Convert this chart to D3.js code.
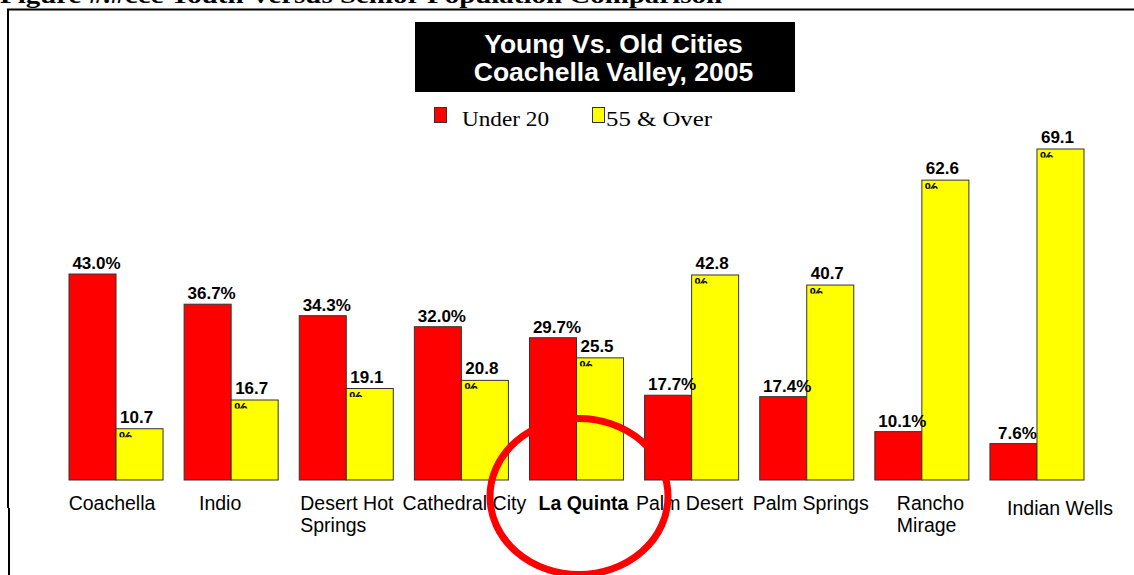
<!DOCTYPE html>
<html><head><meta charset="utf-8">
<script src="https://cdn.jsdelivr.net/npm/d3@7"></script>
<style>body{margin:0;background:#fff;}svg{display:block;}</style>
</head><body>
<script>
const categories = ["Coachella","Indio","Desert Hot Springs","Cathedral City","La Quinta","Palm Desert","Palm Springs","Rancho Mirage","Indian Wells"];
const categoryLines = [["Coachella"],["Indio"],["Desert Hot","Springs"],["Cathedral City"],["La Quinta"],["Palm Desert"],["Palm Springs"],["Rancho","Mirage"],["Indian Wells"]];
const under20 = [43.0,36.7,34.3,32.0,29.7,17.7,17.4,10.1,7.6];
const over55 = [10.7,16.7,19.1,20.8,25.5,42.8,40.7,62.6,69.1];
const seriesNames = ["Under 20","55 & Over"];
const highlight = "La Quinta";
// layout nudges for category labels (px)
const labelDx = [-4,-11,1,3,7,-2,4,22,23];
const labelDy = [0,0,0,0,0,0,0,0,5];

const W=1134,H=575;
const svg=d3.select("body").append("svg").attr("width",W).attr("height",H);
const colors=["#FF0000","#FFFF00"];

// page header (cut off at top, as in the source page)
svg.append("text").attr("x",0).attr("y",3)
  .attr("font-family","Liberation Serif, Times New Roman, serif").attr("font-weight","bold")
  .attr("font-size",24).attr("textLength",722).attr("lengthAdjust","spacingAndGlyphs")
  .text("Figure #.#ccc Youth Versus Senior Population Comparison");
// frame
svg.append("line").attr("x1",7).attr("x2",W).attr("y1",9.5).attr("y2",9.5).attr("stroke","#000").attr("stroke-width",2);
svg.append("line").attr("x1",8).attr("x2",8).attr("y1",9).attr("y2",508).attr("stroke","#000").attr("stroke-width",2);
svg.append("line").attr("x1",9).attr("x2",9).attr("y1",508).attr("y2",H).attr("stroke","#000").attr("stroke-width",2);

// title box
svg.append("rect").attr("x",415).attr("y",22).attr("width",380).attr("height",70).attr("fill","#000");
const tt=svg.append("text").attr("text-anchor","middle").attr("fill","#fff")
  .attr("font-family","Liberation Sans, Arial, sans-serif").attr("font-weight","bold").attr("font-size",26.5);
tt.append("tspan").attr("x",613.5).attr("y",53).text("Young Vs. Old Cities");
tt.append("tspan").attr("x",613.5).attr("y",81).text("Coachella Valley, 2005");

// legend
const legX=[434,592], legTX=[462,606], legTW=[87,106];
seriesNames.forEach((s,i)=>{
  svg.append("rect").attr("x",legX[i]+0.5).attr("y",107.5).attr("width",12).attr("height",15)
    .attr("fill",colors[i]).attr("stroke","#333").attr("stroke-width",1);
  svg.append("text").attr("x",legTX[i]).attr("y",126)
    .attr("font-family","Liberation Serif, Times New Roman, serif").attr("font-size",21)
    .attr("textLength",legTW[i]).attr("lengthAdjust","spacingAndGlyphs").text(s);
});

// scales
const x0=d3.scaleBand().domain(categories).range([69,1084]).paddingInner(0.183).paddingOuter(0);
const x1=d3.scaleBand().domain([0,1]).range([0,x0.bandwidth()]);
const y=d3.scaleLinear().domain([0,69.1]).range([480,149]);

const defs=svg.append("defs");
categories.forEach((c,i)=>{
  const g=svg.append("g").attr("transform",`translate(${x0(c)},0)`);
  [under20[i],over55[i]].forEach((v,j)=>{
    g.append("rect").attr("x",x1(j)).attr("y",y(v)).attr("width",x1.bandwidth()).attr("height",y(0)-y(v))
      .attr("fill",colors[j]).attr("stroke","#333").attr("stroke-width",1);
  });
  // red label
  g.append("text").attr("x",x1(0)+x1.bandwidth()/2+4).attr("y",y(under20[i])-5).attr("text-anchor","middle")
    .attr("font-family","Liberation Sans, Arial, sans-serif").attr("font-weight","bold").attr("font-size",17)
    .text(under20[i].toFixed(1)+"%");
  // yellow label (percent sign wrapped and clipped)
  g.append("text").attr("x",x1(1)+4).attr("y",y(over55[i])-6)
    .attr("font-family","Liberation Sans, Arial, sans-serif").attr("font-weight","bold").attr("font-size",17)
    .text(over55[i].toFixed(1));
  const cid="clip"+i;
  defs.append("clipPath").attr("id",cid).append("rect")
    .attr("x",x0(c)+x1(1)).attr("y",y(over55[i])+1).attr("width",x1.bandwidth()).attr("height",7.5);
  svg.append("text").attr("clip-path",`url(#${cid})`).attr("x",x0(c)+x1(1)+3).attr("y",y(over55[i])+13)
    .attr("font-family","Liberation Sans, Arial, sans-serif").attr("font-weight","bold").attr("font-size",15)
    .text("%");
  // category label
  const lines=categoryLines[i];
  const multi=lines.length>1;
  const lx = multi ? x0(c)+labelDx[i] : x0(c)+x0.bandwidth()/2+labelDx[i];
  const t=svg.append("text").attr("text-anchor",multi?"start":"middle")
    .attr("font-family","Liberation Sans, Arial, sans-serif").attr("font-size",19.5)
    .attr("font-weight",c===highlight?"bold":"normal");
  lines.forEach((l,k)=>t.append("tspan").attr("x",lx).attr("y",510+labelDy[i]+k*22).text(l));
});

// highlight circle
const hc=x0(highlight)+x0.bandwidth()/2;
svg.append("ellipse").attr("cx",hc+2.5).attr("cy",496.5).attr("rx",89).attr("ry",78)
  .attr("fill","none").attr("stroke","#FF0000").attr("stroke-width",7);
</script>
</body></html>
